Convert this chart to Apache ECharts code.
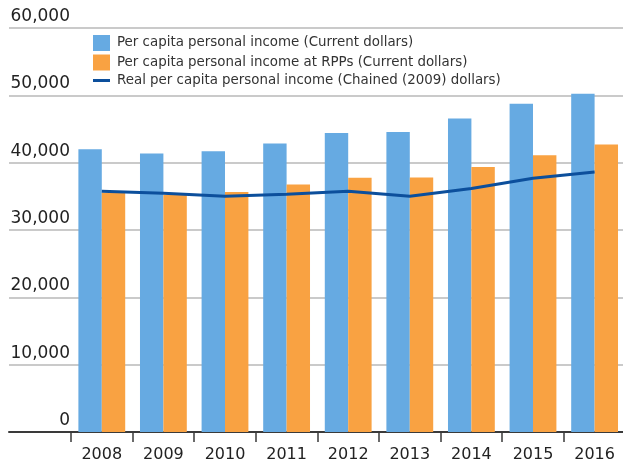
<!DOCTYPE html>
<html>
<head>
<meta charset="utf-8">
<script src="https://cdn.jsdelivr.net/npm/echarts@6/dist/echarts.min.js"></script>
<style>
html,body{margin:0;padding:0;background:#fff;}
#chart{width:623px;height:465px;}
</style>
</head>
<body>
<div id="chart"></div>
<script>
const years = ['2008','2009','2010','2011','2012','2013','2014','2015','2016'];
const perCapitaCurrent = [42000, 41350, 41700, 42850, 44400, 44550, 46550, 48750, 50250];
const perCapitaRPP = [35550, 35250, 35650, 36750, 37750, 37800, 39350, 41100, 42700];
const realPerCapita = [35750, 35450, 35000, 35300, 35750, 35000, 36150, 37700, 38600];
const yTicks = {min: 0, max: 60000, interval: 10000};
const seriesNames = [
  'Per capita personal income (Current dollars)',
  'Per capita personal income at RPPs (Current dollars)',
  'Real per capita personal income (Chained (2009) dollars)'
];

const FONT = 'DejaVu Sans';
const chart = echarts.init(document.getElementById('chart'), null, {renderer: 'canvas'});
chart.setOption({
  animation: false,
  backgroundColor: '#ffffff',
  textStyle: {fontFamily: FONT},
  legend: {
    orient: 'vertical',
    left: 93,
    top: 35,
    padding: 0,
    itemWidth: 17,
    itemHeight: 16,
    itemGap: 3.5,
    symbolKeepAspect: true,
    textStyle: {fontSize: 13.4, color: '#333', fontFamily: FONT, padding: [0, 0, 0, 2]},
    data: [
      {name: seriesNames[0], icon: 'rect'},
      {name: seriesNames[1], icon: 'rect'},
      {name: seriesNames[2], icon: 'path://M0,0L17,0L17,3L0,3Z'}
    ]
  },
  grid: [
    {left: 9, right: 0, top: 28, bottom: 33, outerBoundsMode: 'none', containLabel: false},
    {left: 71, width: 554.4, top: 28, bottom: 33, outerBoundsMode: 'none', containLabel: false}
  ],
  xAxis: [
    {
      gridIndex: 0, type: 'value', min: 0, max: 1,
      axisLine: {show: true, lineStyle: {color: '#3a3a3a', width: 2}},
      axisTick: {show: false}, axisLabel: {show: false}, splitLine: {show: false}
    },
    {
      gridIndex: 1, type: 'category', data: years,
      axisLine: {show: false},
      axisTick: {show: true, length: 10, lineStyle: {color: '#3a3a3a', width: 1.5}},
      axisLabel: {fontSize: 16, color: '#222', margin: 15, fontFamily: FONT},
      splitLine: {show: false}
    }
  ],
  yAxis: [
    {
      gridIndex: 0, type: 'value', min: yTicks.min, max: yTicks.max, interval: yTicks.interval,
      axisLine: {show: false}, axisTick: {show: false},
      splitLine: {show: true, lineStyle: {color: '#b8b8b8', width: 1.5}},
      axisLabel: {
        margin: -61, align: 'right', verticalAlign: 'bottom',
        fontSize: 17, color: '#222', fontFamily: FONT, padding: [0, 0, 3, 0],
        formatter: v => v.toLocaleString('en-US')
      }
    },
    {
      gridIndex: 1, type: 'value', min: yTicks.min, max: yTicks.max, interval: yTicks.interval,
      show: false
    }
  ],
  series: [
    {
      name: seriesNames[0], type: 'bar', xAxisIndex: 1, yAxisIndex: 1,
      data: perCapitaCurrent, barGap: '0%', barCategoryGap: '24%',
      itemStyle: {color: '#66aae2'}
    },
    {
      name: seriesNames[1], type: 'bar', xAxisIndex: 1, yAxisIndex: 1,
      data: perCapitaRPP, barGap: '0%', barCategoryGap: '24%',
      itemStyle: {color: '#f9a242'}
    },
    {
      name: seriesNames[2], type: 'line', xAxisIndex: 1, yAxisIndex: 1,
      data: realPerCapita, symbol: 'none', showSymbol: false, z: 5,
      lineStyle: {color: '#0c4f9c', width: 3},
      itemStyle: {color: '#0c4f9c'}
    }
  ]
});
</script>
</body>
</html>
